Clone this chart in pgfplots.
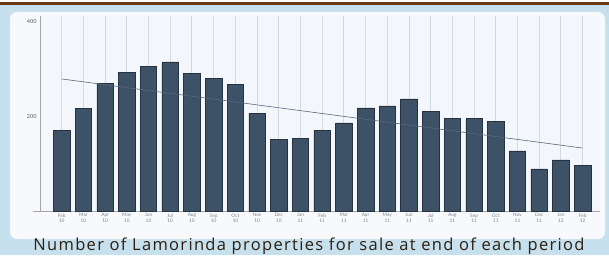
\documentclass[border=0pt]{standalone}
\usepackage{fontspec}
\setmainfont{Lato}
\newfontfamily\capfont[LetterSpace=8]{Open Sans}
\usepackage{pgfplots}
\pgfplotsset{compat=1.18}
\definecolor{bgblue}{HTML}{C6E0EE}
\definecolor{topbrown}{HTML}{6A3A14}
\definecolor{panel}{HTML}{F7F9FC}
\definecolor{plotbg}{HTML}{F3F6FA}
\definecolor{barfill}{HTML}{3D5267}
\definecolor{baredge}{HTML}{26323F}
\definecolor{trend}{HTML}{556A82}
\definecolor{gridc}{HTML}{D5DAE0}
\definecolor{ticktext}{HTML}{7E848C}
\definecolor{captext}{HTML}{2E1E0E}
\begin{document}
\begin{tikzpicture}[x=1pt,y=1pt]
\useasboundingbox (0,0) rectangle (609,255);
\fill[bgblue] (0,0) rectangle (609,255);
\fill[white] (0,252.5) rectangle (609,255);
\fill[topbrown] (0,249.5) rectangle (609,252.5);
\fill[panel, rounded corners=7pt] (10,16) rectangle (605,243);
\draw[gray!70, line width=0.8pt] (33,44) -- (40,44);
\begin{axis}[
  at={(40pt,44pt)}, anchor=south west,
  width=560pt, height=195pt, scale only axis,
  xmin=-1, xmax=24.8, ymin=0, ymax=412,
  axis background/.style={fill=plotbg},
  axis x line*=bottom, axis y line*=left,
  axis line style={draw=gray!70, line width=0.8pt},
  xtick={0,...,24},
  xticklabels={{Feb\\10},{Mar\\10},{Apr\\10},{May\\10},{Jun\\10},{Jul\\10},{Aug\\10},{Sep\\10},{Oct\\10},{Nov\\10},{Dec\\10},{Jan\\11},{Feb\\11},{Mar\\11},{Apr\\11},{May\\11},{Jun\\11},{Jul\\11},{Aug\\11},{Sep\\11},{Oct\\11},{Nov\\11},{Dec\\11},{Jan\\12},{Feb\\12}},
  x tick label style={align=center, font=\fontsize{4.8}{5.5}\selectfont, text=ticktext, yshift=1pt},
  ytick={200,400},
  y tick label style={font=\fontsize{5.5}{6}\selectfont\bfseries, text=ticktext},
  /pgf/number format/assume math mode=true,
  major tick length=0pt,
  xmajorgrids, grid style={draw=gridc, line width=0.9pt},
  clip=false,
]
\addplot[ybar, bar width=16.5pt, fill=barfill, draw=baredge, line width=0.6pt] coordinates {
(0,171) (1,216) (2,269) (3,292) (4,305) (5,315) (6,290) (7,281) (8,267) (9,207)
(10,152) (11,154) (12,171) (13,186) (14,218) (15,222) (16,237) (17,210) (18,195) (19,195)
(20,190) (21,127) (22,89) (23,108) (24,97)
};
\addplot[sharp plot, no markers, draw=trend, line width=0.6pt] coordinates {(0,279) (24,133)};
\end{axis}
\node[anchor=base, text=captext, font=\capfont\fontsize{16.5}{19}\selectfont, inner sep=0pt] at (309,4.2) {Number of Lamorinda properties for sale at end of each period};
\end{tikzpicture}
\end{document}
